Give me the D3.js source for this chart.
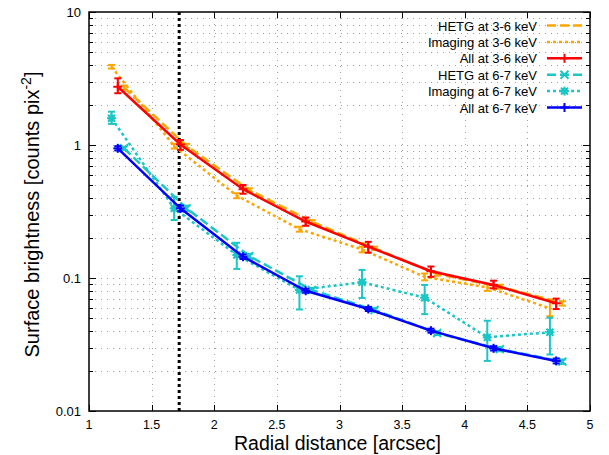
<!DOCTYPE html>
<html><head><meta charset="utf-8">
<script src="https://cdn.jsdelivr.net/npm/d3@7"></script>
<style>body{margin:0;background:#fff}svg{display:block}text{font-family:"Liberation Sans",Arial,sans-serif}</style>
</head><body>
<script>
// ---- data ----
const xImaging = [1.18,1.68,2.18,2.68,3.18,3.68,4.18,4.68];
const xAll     = [1.23,1.73,2.23,2.73,3.23,3.73,4.23,4.73];
const xHETG    = [1.28,1.78,2.28,2.78,3.28,3.78,4.28,4.78];

const hetg36    = [2.70,0.983,0.459,0.265,0.167,0.107,0.086,0.0648];
const hetg36Lo  = [2.60,0.95,0.445,0.257,0.162,0.104,0.083,0.062];
const hetg36Hi  = [2.80,1.02,0.473,0.273,0.172,0.110,0.089,0.067];

const img36     = [3.88,0.98,0.416,0.233,0.164,0.102,0.085,0.0592];
const img36Lo   = [3.76,0.94,0.398,0.223,0.156,0.096,0.080,0.0516];
const img36Hi   = [4.00,1.02,0.434,0.243,0.172,0.108,0.090,0.069];

const all36     = [2.74,1.01,0.465,0.266,0.172,0.1125,0.0886,0.0646];
const all36Lo   = [2.45,0.92,0.43,0.247,0.155,0.102,0.0836,0.0584];
const all36Hi   = [3.17,1.09,0.50,0.285,0.187,0.122,0.0955,0.0700];

const hetg67    = [0.944,0.334,0.146,0.0813,0.0574,0.0386,0.0292,0.0235];
const hetg67Lo  = [0.92,0.32,0.140,0.0785,0.0555,0.0372,0.0281,0.0226];
const hetg67Hi  = [0.97,0.35,0.152,0.0842,0.0594,0.0400,0.0303,0.0244];

const img67     = [1.59,0.334,0.149,0.0813,0.0929,0.0711,0.0358,0.0391];
const img67Lo   = [1.44,0.273,0.117,0.058,0.0708,0.0535,0.0238,0.0266];
const img67Hi   = [1.78,0.408,0.184,0.103,0.115,0.0886,0.0477,0.0503];

const all67     = [0.944,0.334,0.1445,0.0802,0.0585,0.0402,0.0296,0.0238];
const all67Lo   = [0.91,0.318,0.139,0.0775,0.0565,0.0388,0.0285,0.0228];
const all67Hi   = [0.98,0.350,0.150,0.0830,0.0605,0.0416,0.0307,0.0248];

const seriesNames = ["HETG at 3-6 keV","Imaging at 3-6 keV","All at 3-6 keV","HETG at 6-7 keV","Imaging at 6-7 keV","All at 6-7 keV"];
const xTicks = [1,1.5,2,2.5,3,3.5,4,4.5,5];
const xTickLabels = ["1","1.5","2","2.5","3","3.5","4","4.5","5"];
const yTicks = [0.01,0.1,1,10];
const yTickLabels = ["0.01","0.1","1","10"];
const vLineX = 1.72;

// ---- build ----
const W=609,H=455, m={l:89,r:19,t:12,b:44};
const svg=d3.select("body").append("svg").attr("width",W).attr("height",H);
const x=d3.scaleLinear().domain([1,5]).range([m.l,W-m.r]);
const y=d3.scaleLog().domain([0.01,10]).range([H-m.b,m.t]);

const styles=[
 {c:"#ffa500",dash:"9,4",pt:null},
 {c:"#ffa500",dash:"3,3",pt:null},
 {c:"#ff0000",dash:null,pt:"plus"},
 {c:"#1cc6c6",dash:"9,4",pt:"cross"},
 {c:"#1cc6c6",dash:"3,3",pt:"star"},
 {c:"#0000ff",dash:null,pt:"plus"}
];
const series=[
 {x:xHETG,v:hetg36,lo:hetg36Lo,hi:hetg36Hi},
 {x:xImaging,v:img36,lo:img36Lo,hi:img36Hi},
 {x:xAll,v:all36,lo:all36Lo,hi:all36Hi},
 {x:xHETG,v:hetg67,lo:hetg67Lo,hi:hetg67Hi},
 {x:xImaging,v:img67,lo:img67Lo,hi:img67Hi},
 {x:xAll,v:all67,lo:all67Lo,hi:all67Hi}
];

// grid
const minorY=[];
for(let e=-2;e<1;e++) for(let k=1;k<10;k++) minorY.push(k*Math.pow(10,e));
minorY.push(10);
const grid=svg.append("g").attr("stroke","#a0a0a0").attr("stroke-width",1).attr("stroke-dasharray","1,5");
grid.selectAll("line.gy").data(minorY.filter(v=>v>0.0100001&&v<9.99)).join("line")
 .attr("x1",m.l).attr("x2",W-m.r).attr("y1",d=>Math.round(y(d))+0.5).attr("y2",d=>Math.round(y(d))+0.5);
grid.selectAll("line.gx").data(xTicks.slice(1,-1)).join("line")
 .attr("y1",m.t).attr("y2",H-m.b).attr("x1",d=>Math.round(x(d))+0.5).attr("x2",d=>Math.round(x(d))+0.5);

// axes with inward ticks
const ax=svg.append("g").attr("stroke","#000").attr("stroke-width",1);
xTicks.forEach(t=>{const px=Math.round(x(t))+0.5;
 ax.append("line").attr("x1",px).attr("x2",px).attr("y1",H-m.b).attr("y2",H-m.b-6);
 ax.append("line").attr("x1",px).attr("x2",px).attr("y1",m.t).attr("y2",m.t+6);});
minorY.forEach(t=>{const py=Math.round(y(t))+0.5; const len=yTicks.some(v=>Math.abs(v-t)<1e-9)?7:4;
 ax.append("line").attr("x1",m.l).attr("x2",m.l+len).attr("y1",py).attr("y2",py);
 ax.append("line").attr("x1",W-m.r).attr("x2",W-m.r-len).attr("y1",py).attr("y2",py);});
svg.append("rect").attr("x",m.l).attr("y",m.t).attr("width",W-m.l-m.r).attr("height",H-m.t-m.b)
 .attr("fill","none").attr("stroke","#000").attr("stroke-width",1.5);

svg.append("g").selectAll("text").data(xTicks).join("text")
 .attr("x",d=>x(d)).attr("y",H-m.b+18).attr("text-anchor","middle").attr("font-size",12.5)
 .text((d,i)=>xTickLabels[i]);
svg.append("g").selectAll("text").data(yTicks).join("text")
 .attr("x",m.l-8).attr("y",d=>y(d)+5).attr("text-anchor","end").attr("font-size",13)
 .text((d,i)=>yTickLabels[i]);

svg.append("text").attr("x",(m.l+W-m.r)/2-2).attr("y",H-5).attr("text-anchor","middle")
 .attr("font-size",19.5).text("Radial distance [arcsec]");
const yl=svg.append("text").attr("transform",`translate(39,${(m.t+H-m.b)/2+3}) rotate(-90)`)
 .attr("text-anchor","middle").attr("font-size",20);
yl.append("tspan").text("Surface brightness [counts pix");
yl.append("tspan").attr("dy",-8).attr("font-size",14).text("-2");
yl.append("tspan").attr("dy",8).text("]");

// vertical line
svg.append("line").attr("x1",x(vLineX)).attr("x2",x(vLineX)).attr("y1",m.t).attr("y2",H-m.b)
 .attr("stroke","#000").attr("stroke-width",3).attr("stroke-dasharray","3,3");

function marker(g,type,cx,cy,c){
 const s=4.5;
 if(type==="plus"||type==="star"){
  g.append("line").attr("x1",cx-s).attr("x2",cx+s).attr("y1",cy).attr("y2",cy).attr("stroke",c).attr("stroke-width",2);
  g.append("line").attr("x1",cx).attr("x2",cx).attr("y1",cy-s).attr("y2",cy+s).attr("stroke",c).attr("stroke-width",2);}
 if(type==="cross"||type==="star"){
  const t=type==="star"?3.5:4;
  g.append("line").attr("x1",cx-t).attr("x2",cx+t).attr("y1",cy-t).attr("y2",cy+t).attr("stroke",c).attr("stroke-width",2);
  g.append("line").attr("x1",cx-t).attr("x2",cx+t).attr("y1",cy+t).attr("y2",cy-t).attr("stroke",c).attr("stroke-width",2);}
 if(type==="star"){
  g.append("rect").attr("x",cx-3).attr("y",cy-3).attr("width",6).attr("height",6).attr("fill",c);}
}

// series
const line=d3.line().x(d=>x(d.x)).y(d=>y(d.v));
series.forEach((s,i)=>{
 const st=styles[i];
 const pts=s.x.map((xv,j)=>({x:xv,v:s.v[j],lo:s.lo[j],hi:s.hi[j]}));
 const g=svg.append("g");
 g.append("path").datum(pts).attr("d",line).attr("fill","none").attr("stroke",st.c)
  .attr("stroke-width",2.5).attr("stroke-dasharray",st.dash);
 pts.forEach(p=>{
  const px=x(p.x);
  g.append("line").attr("x1",px).attr("x2",px).attr("y1",y(p.lo)).attr("y2",y(p.hi)).attr("stroke",st.c).attr("stroke-width",2);
  [p.lo,p.hi].forEach(v=>g.append("line").attr("x1",px-3.5).attr("x2",px+3.5).attr("y1",y(v)).attr("y2",y(v)).attr("stroke",st.c).attr("stroke-width",2));
  if(st.pt) marker(g,st.pt,px,y(p.v),st.c);
 });
});

// legend
const lg=svg.append("g");
seriesNames.forEach((n,i)=>{
 const ly=25.5+i*16.4, st=styles[i];
 lg.append("text").attr("x",537).attr("y",ly+5).attr("text-anchor","end").attr("font-size",13).text(n);
 lg.append("line").attr("x1",547).attr("x2",582).attr("y1",ly).attr("y2",ly).attr("stroke",st.c)
  .attr("stroke-width",2.5).attr("stroke-dasharray",st.dash);
 if(st.pt) marker(lg,st.pt,564.5,ly,st.c);
});
</script>
</body></html>
